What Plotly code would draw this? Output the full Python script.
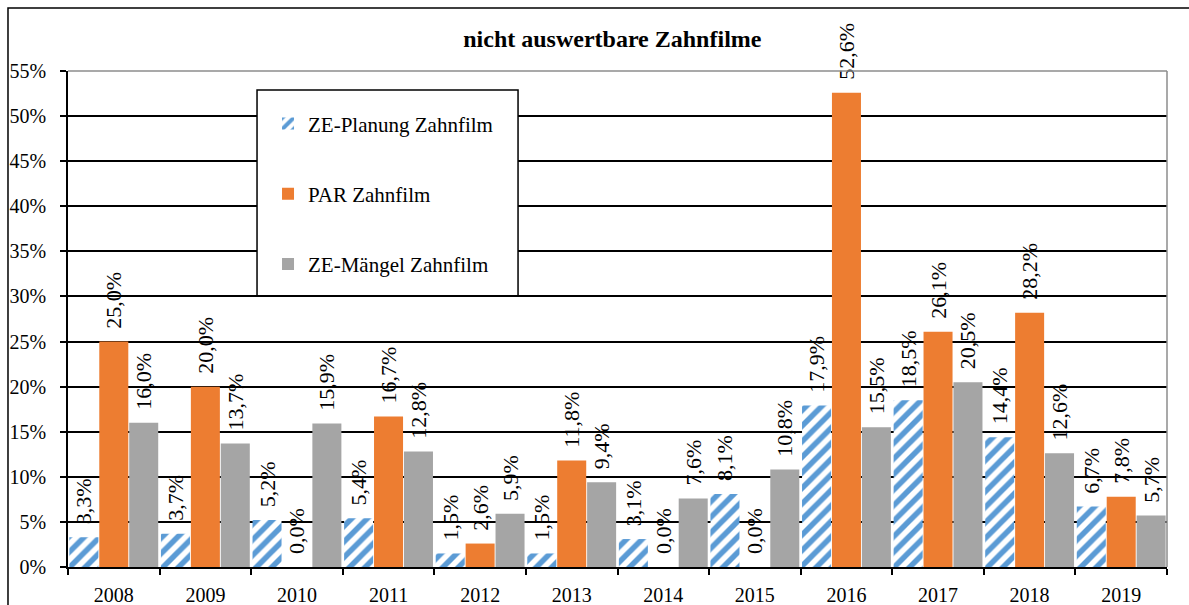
import plotly.graph_objects as go

years = ["2008", "2009", "2010", "2011", "2012", "2013",
         "2014", "2015", "2016", "2017", "2018", "2019"]
ze_planung = [3.3, 3.7, 5.2, 5.4, 1.5, 1.5, 3.1, 8.1, 17.9, 18.5, 14.4, 6.7]
par = [25.0, 20.0, 0.0, 16.7, 2.6, 11.8, 0.0, 0.0, 52.6, 26.1, 28.2, 7.8]
ze_maengel = [16.0, 13.7, 15.9, 12.8, 5.9, 9.4, 7.6, 10.8, 15.5, 20.5, 12.6, 5.7]
y_ticks = [0, 5, 10, 15, 20, 25, 30, 35, 40, 45, 50, 55]

SERIF = "Liberation Serif"


def fmt(values):
    # leading spaces keep the rotated label a little above the bar, as in Excel
    return ["\u00a0\u2009" + f"{v:.1f}%".replace(".", ",") for v in values]


def bar(name, values, marker, group):
    return go.Bar(
        name=name, x=years, y=values, marker=marker,
        text=fmt(values), textposition="outside", textangle=-90,
        constraintext="none", cliponaxis=False,
        textfont=dict(family=SERIF, size=22, color="black"),
        legendgroup=group, hoverinfo="x+y",
    )


fig = go.Figure()
fig.add_trace(bar("ZE-Planung Zahnfilm", ze_planung,
                  dict(color="white", line_width=0,
                       pattern=dict(shape="/", fgcolor="#5B9BD5", bgcolor="white",
                                    fgopacity=1, size=11, solidity=0.5)), "a"))
fig.add_trace(bar("PAR Zahnfilm", par, dict(color="#ED7D31", line_width=0), "b"))
fig.add_trace(bar("ZE-Mängel Zahnfilm", ze_maengel, dict(color="#A5A5A5", line_width=0), "c"))

fig.update_layout(
    width=1189, height=605,
    margin=dict(l=68, r=22, t=71, b=38),
    paper_bgcolor="white", plot_bgcolor="white",
    barmode="group", bargap=0.02, bargroupgap=0.03,
    font=dict(family=SERIF, size=20, color="black"),
    title=dict(text="<b>nicht auswertbare Zahnfilme</b>", x=0.515, xanchor="center",
               y=0.937, yanchor="middle", font=dict(family=SERIF, size=24, color="black")),
    showlegend=True,
    legend=dict(x=0.182, y=0.935, xanchor="left", yanchor="top",
                bgcolor="rgba(0,0,0,0)", borderwidth=0, tracegroupgap=40,
                font=dict(family=SERIF, size=21, color="black")),
    xaxis=dict(type="category", tickson="boundaries", ticks="outside", ticklen=6,
               tickcolor="black", tickwidth=1.5, showline=True, linecolor="black",
               linewidth=1.5, showgrid=False, ticklabelstandoff=9, automargin=False,
               tickfont=dict(size=20)),
    yaxis=dict(range=[0, 55], tickvals=y_ticks, ticktext=[f"{t}%" for t in y_ticks],
               ticks="outside", ticklen=6, tickcolor="black", tickwidth=1.5,
               showline=True, linecolor="black", linewidth=1.5, ticklabelstandoff=10,
               automargin=False,
               showgrid=True, gridcolor="black", gridwidth=1.5, zeroline=False,
               tickfont=dict(size=20)),
    shapes=[
        # outer chart border
        dict(type="rect", xref="paper", yref="paper", x0=-0.0546, x1=1.2,
             y0=-0.3, y1=1.127, line=dict(color="black", width=1.5), layer="below"),
        # plot area top and right edges
        dict(type="line", xref="paper", yref="paper", x0=0, x1=1, y0=1, y1=1,
             line=dict(color="#8C8C8C", width=1.5)),
        dict(type="line", xref="paper", yref="paper", x0=1, x1=1, y0=0, y1=1,
             line=dict(color="#8C8C8C", width=1.5)),
        # legend box
        dict(type="rect", xref="paper", yref="paper", x0=0.172, x1=0.4095,
             y0=0.5468, y1=0.9617, fillcolor="white",
             line=dict(color="black", width=1.5), layer="above"),
    ],
)

fig.write_html("out.html", config={"displayModeBar": False},
               post_script="document.body.style.margin='0';")
